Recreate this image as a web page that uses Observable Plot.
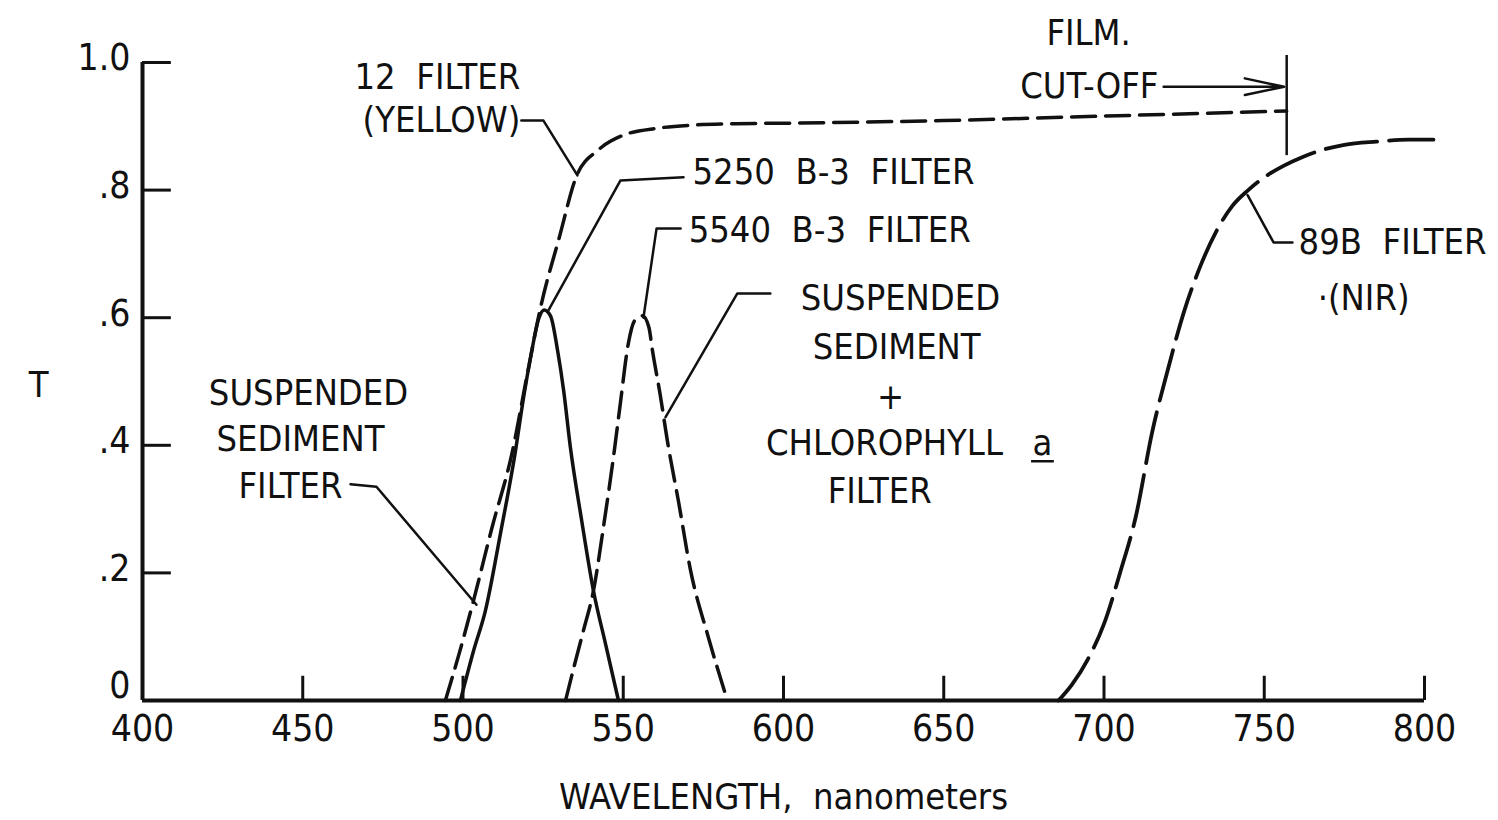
<!DOCTYPE html>
<html><head><meta charset="utf-8">
<script src="https://cdn.jsdelivr.net/npm/d3@7"></script>
<script src="https://cdn.jsdelivr.net/npm/@observablehq/plot@0.6"></script>
<style>
html,body{margin:0;padding:0;background:#fff;overflow:hidden}
svg text{white-space:pre}
</style>
</head><body><div id="chart"></div>
<script>
// ---- axes ----
const xTicks = [400,450,500,550,600,650,700,750,800];
const yTicks = [0,0.2,0.4,0.6,0.8,1.0];
const yTickLabels = ["0",".2",".4",".6",".8","1.0"];

// ---- curves (wavelength nm, transmittance T) ----
const yellowNm = [494.5,499,503.3,509,515.4,520,524.2,530,535.5,542,550,560.7,572,585,603,650,700,757];
const yellowT  = [0,0.077,0.157,0.27,0.39,0.51,0.616,0.725,0.823,0.862,0.886,0.897,0.902,0.904,0.905,0.909,0.916,0.924];

const b5250Nm = [499.2,503.3,507,511.7,516.4,518.9,521.1,523.6,525.3,527.3,529.5,531.4,533.5,537,540.7,544.5,548.5];
const b5250T  = [0,0.078,0.141,0.262,0.392,0.475,0.538,0.598,0.612,0.603,0.549,0.486,0.397,0.283,0.172,0.088,0];

const b5540Nm = [532,535,537.6,540.7,543.8,547.3,549.1,551.6,553.5,556,558,559.1,561.5,564,567.2,571,576.5,582.5];
const b5540T  = [0,0.06,0.11,0.172,0.271,0.395,0.466,0.56,0.595,0.603,0.585,0.549,0.48,0.40,0.313,0.204,0.1,0];

const f89bNm = [685.8,690,695,700,705,710,715,720,725,730,735,740,745,750,756,762,767.5,775,785,795,802.8];
const f89bT  = [0,0.025,0.065,0.12,0.2,0.29,0.42,0.52,0.61,0.68,0.735,0.775,0.8,0.82,0.838,0.852,0.862,0.871,0.876,0.879,0.879];

const filmCutoffNm = 757;

// ---- annotations (data coordinates) ----
const labelsMiddle = [
  {text:"12\u00A0\u00A0FILTER", x:492.0, y:0.976},
  {text:"(YELLOW)", x:493.3, y:0.909},
  {text:"SUSPENDED", x:636.5, y:0.630},
  {text:"SEDIMENT", x:635.3, y:0.553},
  {text:"+", x:633.4, y:0.475},
  {text:"CHLOROPHYLL", x:631.5, y:0.403},
  {text:"a", x:680.8, y:0.403},
  {text:"FILTER", x:630.0, y:0.328},
  {text:"SUSPENDED", x:451.8, y:0.481},
  {text:"SEDIMENT", x:449.3, y:0.409},
  {text:"FILM.", x:695.2, y:1.045},
  {text:"·(NIR)", x:781.0, y:0.630},
  {text:"T", x:367.6, y:0.494}
];
const labelsStart = [
  {text:"5250\u00A0\u00A0B-3\u00A0\u00A0FILTER", x:571.6, y:0.828},
  {text:"5540\u00A0\u00A0B-3\u00A0\u00A0FILTER", x:570.4, y:0.737},
  {text:"89B\u00A0\u00A0FILTER", x:760.7, y:0.718}
];
const labelsEnd = [
  {text:"FILTER", x:462.4, y:0.335},
  {text:"CUT-OFF", x:717.0, y:0.962}
];
const leaders = [
  [[518.2,0.909],[525.1,0.909],[535.7,0.823]],
  [[526.7,0.612],[549.1,0.815],[568.8,0.820]],
  [[556.3,0.600],[560.4,0.740],[567.9,0.740]],
  [[563.2,0.444],[585.6,0.638],[595.9,0.638]],
  [[464.9,0.339],[473.0,0.335],[504.2,0.150]],
  [[744.8,0.792],[752.9,0.718],[758.8,0.718]]
];
const underlineA = {x1:677.4, x2:684.5, y:0.375};
const cutoffArrow = {x1:718.6, x2:756.2, y:0.962};

const toRows = (nm, t) => nm.map((x,i)=>({nm:x, t:t[i]}));
const ink = "#111";
const font = "'DejaVu Sans Condensed','DejaVu Sans',sans-serif";
const labelSize = 36;

const leaderRows = leaders.flatMap((pts,k)=>pts.map(([x,y])=>({id:k,x,y})));
const yLabelFor = d => yTickLabels[yTicks.indexOf(d)];

const chart = Plot.plot({
  width:1498, height:820,
  marginLeft:142, marginRight:74, marginTop:62, marginBottom:120,
  x:{domain:[400,800]},
  y:{domain:[0,1]},
  style:{fontFamily:font, background:"#fff", color:ink, overflow:"visible"},
  marks:[
    Plot.axisX({ticks:xTicks, tickSize:0, tickPadding:14, fontSize:37, label:null, tickFormat:d=>String(d)}),
    Plot.axisY({ticks:yTicks.slice(1), tickSize:0, tickPadding:12, fontSize:37, label:null, dy:-4,
                tickFormat:yLabelFor}),
    Plot.text([yTicks[0]], {x:400, y:d=>d, text:yLabelFor, dx:-12, dy:-14, fontSize:37, fill:ink, textAnchor:"end"}),
    Plot.ruleY([0], {x1:400, x2:800, stroke:ink, strokeWidth:4}),
    Plot.ruleX([400], {y1:0, y2:1, stroke:ink, strokeWidth:4}),
    Plot.ruleX(xTicks.slice(1), {x:d=>d, y1:0, y2:0.038, stroke:ink, strokeWidth:3}),
    Plot.ruleY(yTicks.slice(1), {y:d=>d, x1:400, x2:409, stroke:ink, strokeWidth:3}),
    Plot.line(toRows(yellowNm, yellowT), {x:"nm", y:"t", curve:"monotone-x", stroke:ink, strokeWidth:3.5, strokeDasharray:"24,10"}),
    Plot.line(toRows(b5250Nm, b5250T), {x:"nm", y:"t", curve:"monotone-x", stroke:ink, strokeWidth:3.5}),
    Plot.line(toRows(b5540Nm, b5540T), {x:"nm", y:"t", curve:"monotone-x", stroke:ink, strokeWidth:3.5, strokeDasharray:"26,10"}),
    Plot.line(toRows(f89bNm, f89bT), {x:"nm", y:"t", curve:"monotone-x", stroke:ink, strokeWidth:3.8, strokeDasharray:"52,12"}),
    Plot.ruleX([filmCutoffNm], {x:d=>d, y1:0.854, y2:1.011, stroke:ink, strokeWidth:2.5}),
    Plot.arrow([cutoffArrow], {x1:"x1", x2:"x2", y1:"y", y2:"y", stroke:ink, strokeWidth:2.5, headLength:26, headAngle:24}),
    Plot.line(leaderRows, {x:"x", y:"y", z:"id", stroke:ink, strokeWidth:2.5}),
    Plot.ruleY([underlineA], {x1:"x1", x2:"x2", y:"y", stroke:ink, strokeWidth:2.5}),
    Plot.text(labelsMiddle, {x:"x", y:"y", text:"text", fontSize:labelSize, fill:ink, textAnchor:"middle"}),
    Plot.text(labelsStart, {x:"x", y:"y", text:"text", fontSize:labelSize, fill:ink, textAnchor:"start"}),
    Plot.text(labelsEnd, {x:"x", y:"y", text:"text", fontSize:labelSize, fill:ink, textAnchor:"end"}),
    Plot.text(["WAVELENGTH,\u00A0\u00A0nanometers"], {x:600, y:-0.152, text:d=>d, fontSize:36, fill:ink, textAnchor:"middle"})
  ]
});
document.getElementById("chart").appendChild(chart);
</script>
</body></html>
